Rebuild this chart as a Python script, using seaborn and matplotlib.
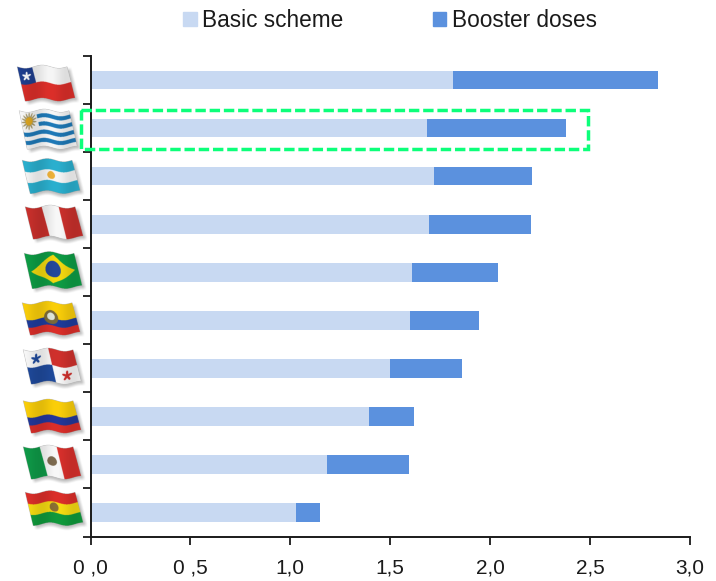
import numpy as np
import pandas as pd
import matplotlib
matplotlib.use("Agg")
import matplotlib.pyplot as plt
from matplotlib.patches import Rectangle, Patch
import seaborn as sns

countries = ["Chile", "Uruguay", "Argentina", "Peru", "Brazil",
             "Ecuador", "Panama", "Colombia", "Mexico", "Bolivia"]
basic = [1.815, 1.685, 1.72, 1.695, 1.61, 1.60, 1.50, 1.393, 1.183, 1.03]
booster = [1.025, 0.695, 0.49, 0.51, 0.43, 0.345, 0.36, 0.227, 0.41, 0.12]
xtick_labels = ["0 ,0", "0 ,5", "1,0", "1,5", "2,0", "2,5", "3,0"]

LIGHT = "#C8D9F2"
DARK = "#5B91DE"
INK = "#1a1a1a"
W, H = 716, 581

sns.set_theme(style="white")
plt.rcParams["font.family"] = ["Liberation Sans", "DejaVu Sans"]

df = pd.DataFrame({"country": countries, "basic": basic, "booster": booster})
df["total"] = df["basic"] + df["booster"]

fig = plt.figure(figsize=(W / 100, H / 100), dpi=100)
ax = fig.add_axes([90.5 / W, 1 - 536.5 / H, 599.5 / W, 480.5 / H])

# stacked look: full total behind, basic scheme on top
sns.barplot(data=df, x="total", y="country", color=DARK, width=0.39,
            saturation=1, linewidth=0, ax=ax)
sns.barplot(data=df, x="basic", y="country", color=LIGHT, width=0.39,
            saturation=1, linewidth=0, ax=ax)

ax.set_xlim(0, 3)
ax.set_ylim(9.5, -0.5)
ax.set_xlabel("")
ax.set_ylabel("")
ax.set_xticks(np.arange(0, 3.01, 0.5))
ax.set_xticklabels(xtick_labels, fontsize=15, color=INK)
ax.set_yticks(np.arange(-0.5, 10))
ax.set_yticklabels([])
ax.tick_params(axis="both", length=5.5, width=1.3, color=INK, left=True,
               bottom=True, pad=10.5)
sns.despine(ax=ax)
for s in ["left", "bottom"]:
    ax.spines[s].set_color(INK)
    ax.spines[s].set_linewidth(1.4)

handles = [Patch(color=LIGHT, label="Basic scheme"), Patch(color=DARK, label="Booster doses")]
fig.legend(handles=handles, ncol=2, loc="center", bbox_to_anchor=(390 / W, 1 - 20.5 / H),
           frameon=False, fontsize=16.3, handlelength=0.58, handleheight=0.58,
           handletextpad=0.25, columnspacing=3.95, labelcolor=INK)

# overlay in pixel coordinates for the highlight box and the flags
over = fig.add_axes([0, 0, 1, 1])
over.patch.set_alpha(0)
over.axis("off")

SHEAR = 8.0 / 50.0


def stripes_h(v, cols, cuts):
    idx = np.searchsorted(np.array(cuts), v)
    return np.array(cols)[np.clip(idx, 0, len(cols) - 1)]


def spot(img, u, v, cu, cv, r, col):
    du = (u - cu + SHEAR * (v - cv)) * 1.56
    img[du ** 2 + (v - cv) ** 2 < r ** 2] = col


def star(img, u, v, cu, cv, r, col, points=5, depth=0.3):
    du, dv = (u - cu + SHEAR * (v - cv)) * 1.56, v - cv
    a = np.arctan2(du, -dv)
    rad = r * (1 - depth + depth * np.cos(points * a))
    img[np.hypot(du, dv) < rad] = col


def rgb(c):
    return np.array(matplotlib.colors.to_rgb(c))


def paint(name, u, v):
    if name == "Chile":
        img = stripes_h(v, [rgb("#f6f6f6"), rgb("#dc2f2a")], [0.5])
        img[(u < 0.3) & (v < 0.5)] = rgb("#1f3f8f")
        star(img, u, v, 0.15, 0.25, 0.14, rgb("#ffffff"))
    elif name == "Uruguay":
        blue, white = rgb("#1f7ab8"), rgb("#f7f7f7")
        img = stripes_h(v, [white, blue] * 4 + [white],
                        [i / 9 for i in range(1, 9)])
        img[(u < 0.33) & (v < 5 / 9)] = white
        star(img, u, v, 0.16, 0.25, 0.24, rgb("#a89a6a"), points=14, depth=0.25)
        spot(img, u, v, 0.16, 0.25, 0.11, rgb("#e0a820"))
    elif name == "Argentina":
        sky, white = rgb("#2bb0cf"), rgb("#f7f7f7")
        img = stripes_h(v, [sky, white, sky], [1 / 3, 2 / 3])
        spot(img, u, v, 0.5, 0.5, 0.12, rgb("#eeb23a"))
    elif name == "Peru":
        img = stripes_h(u, [rgb("#c9302c"), rgb("#f8f8f8"), rgb("#c9302c")], [0.33, 0.67])
    elif name == "Brazil":
        img = np.tile(rgb("#0e9c45"), u.shape + (1,))
        du = u - 0.5 + SHEAR * (v - 0.5)
        img[np.abs(du) / 0.44 + np.abs(v - 0.5) / 0.42 < 1] = rgb("#f4d90f")
        spot(img, u, v, 0.5, 0.5, 0.24, rgb("#24489c"))
    elif name == "Ecuador":
        img = stripes_h(v, [rgb("#fbcf0a"), rgb("#1f3c9c"), rgb("#dc2f2a")], [0.52, 0.76])
        spot(img, u, v, 0.5, 0.5, 0.22, rgb("#7a6a3a"))
        spot(img, u, v, 0.5, 0.48, 0.12, rgb("#dfe6da"))
    elif name == "Panama":
        white = rgb("#f8f8f8")
        img = np.tile(white, u.shape + (1,))
        img[(u >= 0.5) & (v < 0.5)] = rgb("#d0312d")
        img[(u < 0.5) & (v >= 0.5)] = rgb("#1f4a9c")
        star(img, u, v, 0.22, 0.25, 0.16, rgb("#1f4a9c"))
        star(img, u, v, 0.76, 0.75, 0.16, rgb("#d0312d"))
    elif name == "Colombia":
        img = stripes_h(v, [rgb("#fbcf0a"), rgb("#24389a"), rgb("#dc2f2a")], [0.5, 0.75])
    elif name == "Mexico":
        img = stripes_h(u, [rgb("#0f9a48"), rgb("#f8f8f8"), rgb("#d9302c")], [0.33, 0.67])
        spot(img, u, v, 0.5, 0.5, 0.15, rgb("#7d6b50"))
    else:
        img = stripes_h(v, [rgb("#dc2f2a"), rgb("#f6dc12"), rgb("#109a3c")], [1 / 3, 2 / 3])
        spot(img, u, v, 0.5, 0.5, 0.14, rgb("#8a7034"))
    return img


def draw_flag(name, cx, cy, tall=32):
    scale = 4
    cw, ch = 70, 50
    ys, xs = np.mgrid[0:ch * scale, 0:cw * scale] / scale
    fw, fh = 50.0, float(tall)
    x0, y0 = (cw - fw - SHEAR * fw) / 2, (ch - fh) / 2
    phase = (xs - x0) / fw * 2 * np.pi * 1.5

    def coords(off=0.0):
        vv = (ys - off - y0 - 1.6 * np.sin(phase)) / fh
        uu = (xs - off - x0 - SHEAR * fw * vv) / fw
        return uu, vv

    u, v = coords()
    inside = (u >= 0) & (u <= 1) & (v >= 0) & (v <= 1)
    su, sv = coords(3.0)
    shadow = ((su >= 0) & (su <= 1) & (sv >= 0) & (sv <= 1)).astype(float)
    kernel = np.ones(15) / 15
    shadow = np.apply_along_axis(lambda r: np.convolve(r, kernel, "same"), 0, shadow)
    shadow = np.apply_along_axis(lambda r: np.convolve(r, kernel, "same"), 1, shadow)

    col = paint(name, np.clip(u, 0, 1), np.clip(v, 0, 1))
    shade = 0.95 + 0.05 * np.cos(phase)
    img = np.zeros((ch * scale, cw * scale, 4))
    img[..., :3] = 0.4
    img[..., 3] = shadow * 0.4
    img[inside, :3] = (col * shade[..., None])[inside]
    img[inside, 3] = 1
    over.imshow(img, extent=(cx - cw / 2, cx + cw / 2, cy + ch / 2, cy - ch / 2),
                aspect="auto", interpolation="antialiased", zorder=3)


flag_x = [46, 48, 51, 54, 53, 51, 52, 52, 52, 54]
flag_y = [83, 129, 176, 222, 270, 318, 366, 416, 462, 508]
flag_h = [33, 37, 32, 31, 34, 31, 33, 31, 31, 32]
for name, fx, fy, fh in zip(countries, flag_x, flag_y, flag_h):
    draw_flag(name, fx, fy, fh)

over.add_patch(Rectangle((81, 110), 506.5, 39, fill=False, edgecolor="#0CFF7A",
                         linewidth=2.5, linestyle=(0, (3.0, 1.1)), zorder=4))
over.set_xlim(0, W)
over.set_ylim(H, 0)

fig.savefig("out.png", dpi=100)
